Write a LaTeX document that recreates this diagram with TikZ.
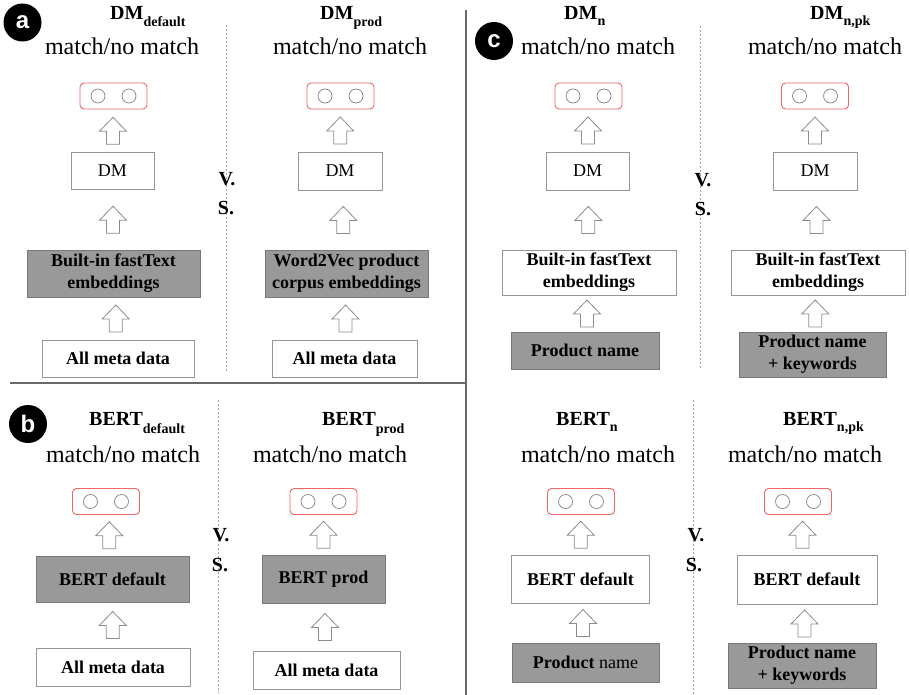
\documentclass[tikz,border=0pt]{standalone}
\usepackage{fontspec}
\setmainfont{LiberationSerif}[Extension=.ttf, UprightFont=*-Regular, BoldFont=*-Bold, ItalicFont=*-Italic, BoldItalicFont=*-BoldItalic]
\newfontfamily\lettersf{Liberation Sans}
\usetikzlibrary{calc, positioning}

\definecolor{boxgray}{RGB}{150,150,150}
\definecolor{fillgray}{RGB}{153,153,153}
\definecolor{fillborder}{RGB}{120,120,120}
\definecolor{outred}{RGB}{240,100,100}
\definecolor{unitgray}{RGB}{130,130,130}
\definecolor{arrowgray}{RGB}{140,140,140}
\definecolor{dashgray}{RGB}{165,165,165}
\definecolor{sepgray}{RGB}{105,105,105}

\newcommand{\lowsub}[2][7pt]{\raisebox{-#1}{\fontsize{14}{14}\selectfont #2}}

\tikzset{
  plainbox/.style={draw=boxgray, fill=white, line width=0.9pt, inner sep=0pt, align=center, font=\rmfamily\fontsize{18}{22}\selectfont},
  filledbox/.style={plainbox, draw=fillborder, fill=fillgray},
  boldtxt/.style={font=\rmfamily\fontsize{18}{22}\selectfont\bfseries},
  outbox/.style={draw=outred, line width=0.9pt, rounded corners=4pt, minimum width=67pt, minimum height=26pt},
  unit/.style={circle, draw=unitgray, line width=0.7pt, minimum size=14pt, inner sep=0pt},
  matchlbl/.style={anchor=base, inner sep=0pt, font=\rmfamily\fontsize{24}{24}\selectfont},
  modeltitle/.style={anchor=base west, inner sep=0pt, font=\rmfamily\fontsize{20}{20}\selectfont\bfseries},
  vslbl/.style={inner sep=0pt, font=\rmfamily\fontsize{20}{20}\selectfont\bfseries},
  panel/.style={circle, fill=black, text=white, minimum size=38pt, inner sep=0pt, font=\lettersf\fontsize{24}{24}\selectfont\bfseries},
  divider/.style={draw=dashgray, line width=0.8pt, dash pattern=on 2pt off 2pt},
  sep/.style={draw=sepgray, line width=1.3pt},
  hollow/.style={draw=arrowgray, fill=white, line width=0.8pt, line join=miter,
    to path={($(\tikztostart)!0.5!(\tikztotarget)$) +(-6.5,13.5) -- +(-6.5,0.5) -- +(-13.5,0.5) -- +(0,-13.5) -- +(13.5,0.5) -- +(6.5,0.5) -- +(6.5,13.5) -- cycle}},
  outpair/.pic={
    \node[outbox] (-box) at (0,0) {};
    \node[unit] (-l) at (-15.5,0) {};
    \node[unit] (-r) at (15.5,0) {};
  }
}

\begin{document}
\begin{tikzpicture}[x=1pt, y=-1pt]
  \useasboundingbox (0,0) rectangle (909,695);

  % Separators
  \draw[sep] (10,383) -- (467,383);
  \draw[sep] (466,10) -- (466,695);
  \draw[divider] (226,25) -- (226,372);
  \draw[divider] (218,400) -- (218,693);
  \draw[divider] (700,26) -- (700,370);
  \draw[divider] (693,400) -- (693,695);

  % Panel a: DM default vs. DM prod
  \node[panel] (pa) at (22.5,22.5) {a};
  \node[modeltitle] (tal) at (110,20) {DM\lowsub{default}};
  \node[matchlbl] (mal) at (122,55) {match/no match};
  \pic (oal) at (113.5,96) {outpair};
  \node[plainbox, minimum width=83pt, minimum height=37pt] (dal) at (112.5,171) {DM};
  \node[filledbox, boldtxt, minimum width=173pt, minimum height=47pt] (eal) at (113.5,273.5) {Built-in fastText\\embeddings};
  \node[plainbox, boldtxt, minimum width=152pt, minimum height=37pt] (mdal) at (118,358.5) {All meta data};
  \draw[hollow] (dal.north) to (oal-box.south);
  \draw[hollow] (eal.north) to (dal.south);
  \draw[hollow] (mdal.north) to (eal.south);

  \node[modeltitle] (tar) at (320,20) {DM\lowsub{prod}};
  \node[matchlbl] (mar) at (350,55) {match/no match};
  \pic (oar) at (340.5,96) {outpair};
  \node[plainbox, minimum width=84pt, minimum height=38pt] (dar) at (340,171) {DM};
  \node[filledbox, boldtxt, minimum width=163pt, minimum height=47pt] (ear) at (346.5,273.5) {Word2Vec product\\corpus embeddings};
  \node[plainbox, boldtxt, minimum width=145pt, minimum height=37pt] (mdar) at (344.5,358.5) {All meta data};
  \draw[hollow] (dar.north) to (oar-box.south);
  \draw[hollow] (ear.north) to (dar.south);
  \draw[hollow] (mdar.north) to (ear.south);

  \node[vslbl] (va) at (227,179) {V.};
  \node[vslbl] (sa) at (226,208) {S.};

  % Panel b: BERT default vs. BERT prod
  \node[panel] (pb) at (28,424) {b};
  \node[modeltitle] (tbl) at (89,425) {BERT\lowsub[8pt]{default}};
  \node[matchlbl] (mbl) at (123,462) {match/no match};
  \pic (obl) at (106,501.5) {outpair};
  \node[filledbox, boldtxt, minimum width=153pt, minimum height=46pt] (bbl) at (112.5,579) {BERT default};
  \node[plainbox, boldtxt, minimum width=154pt, minimum height=38pt] (mdbl) at (113,667) {All meta data};
  \draw[hollow] (bbl.north) to (obl-box.south);
  \draw[hollow] (mdbl.north) to (bbl.south);

  \node[modeltitle] (tbr) at (322,425) {BERT\lowsub[8pt]{prod}};
  \node[matchlbl] (mbr) at (330,462) {match/no match};
  \pic (obr) at (323.5,501.5) {outpair};
  \node[filledbox, boldtxt, minimum width=123pt, minimum height=48pt] (bbr) at (323.5,579) {BERT prod};
  \node[plainbox, boldtxt, minimum width=147pt, minimum height=38pt] (mdbr) at (326.5,670) {All meta data};
  \draw[hollow] (bbr.north) to (obr-box.south);
  \draw[hollow] (mdbr.north) to (bbr.south);

  \node[vslbl] (vb) at (221,535) {V.};
  \node[vslbl] (sb) at (220,565) {S.};

  % Panel c: name only vs. name + keywords
  \node[panel] (pc) at (494,41) {c};
  \node[modeltitle] (tcl) at (564,20) {DM\lowsub[6pt]{n}};
  \node[matchlbl] (mcl) at (598,55) {match/no match};
  \pic (ocl) at (588.5,96) {outpair};
  \node[plainbox, minimum width=83pt, minimum height=38pt] (dcl) at (587.5,171) {DM};
  \node[plainbox, boldtxt, minimum width=174pt, minimum height=45pt] (ecl) at (589,272.5) {Built-in fastText\\embeddings};
  \node[filledbox, boldtxt, minimum width=148pt, minimum height=37pt] (pcl) at (585,350.5) {Product name};
  \draw[hollow] (dcl.north) to (ocl-box.south);
  \draw[hollow] (ecl.north) to (dcl.south);
  \draw[hollow] (pcl.north) to (ecl.south);

  \node[modeltitle] (tcr) at (810,20) {DM\lowsub[6pt]{n,pk}};
  \node[matchlbl] (mcr) at (825,55) {match/no match};
  \pic (ocr) at (815,96) {outpair};
  \node[plainbox, minimum width=84pt, minimum height=38pt] (dcr) at (815,171) {DM};
  \node[plainbox, boldtxt, minimum width=174pt, minimum height=45pt] (ecr) at (818,272.5) {Built-in fastText\\embeddings};
  \node[filledbox, boldtxt, minimum width=147pt, minimum height=45pt] (pcr) at (812.5,354.5) {Product name\\+ keywords};
  \draw[hollow] (dcr.north) to (ocr-box.south);
  \draw[hollow] (ecr.north) to (dcr.south);
  \draw[hollow] (pcr.north) to (ecr.south);

  \node[vslbl] (vc) at (703,180) {V.};
  \node[vslbl] (sc) at (703,209) {S.};

  \node[modeltitle] (tdl) at (556,425) {BERT\lowsub[6pt]{n}};
  \node[matchlbl] (mdl) at (598,462) {match/no match};
  \pic (odl) at (581,501.5) {outpair};
  \node[plainbox, boldtxt, minimum width=138pt, minimum height=48pt] (bdl) at (580.5,579) {BERT default};
  \node[filledbox, minimum width=147pt, minimum height=39pt] (pdl) at (585.5,662.5) {\textbf{Product} name};
  \draw[hollow] (bdl.north) to (odl-box.south);
  \draw[hollow] (pdl.north) to (bdl.south);

  \node[modeltitle] (tdr) at (783,425) {BERT\lowsub[6pt]{n,pk}};
  \node[matchlbl] (mdr) at (805,462) {match/no match};
  \pic (odr) at (798,501.5) {outpair};
  \node[plainbox, boldtxt, minimum width=140pt, minimum height=49pt] (bdr) at (807,579.5) {BERT default};
  \node[filledbox, boldtxt, minimum width=148pt, minimum height=45pt] (pdr) at (802,665.5) {Product name\\+ keywords};
  \draw[hollow] (bdr.north) to (odr-box.south);
  \draw[hollow] (pdr.north) to (bdr.south);

  \node[vslbl] (vd) at (696,535) {V.};
  \node[vslbl] (sd) at (694,565) {S.};
\end{tikzpicture}
\end{document}
